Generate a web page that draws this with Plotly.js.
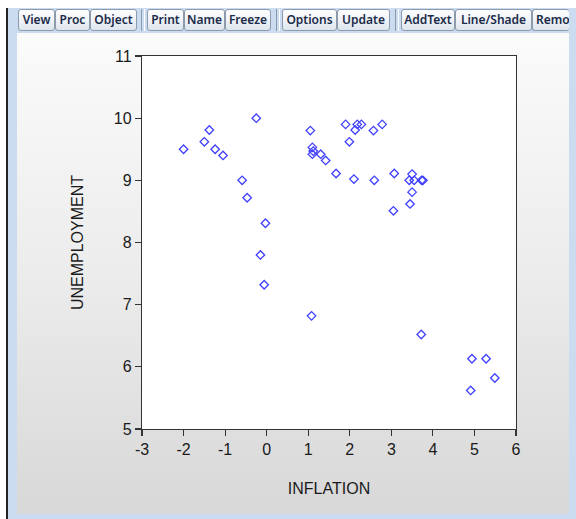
<!DOCTYPE html>
<html>
<head>
<meta charset="utf-8">
<script src="https://cdn.plot.ly/plotly-3.0.1.min.js"></script>
<style>
  html, body { margin:0; padding:0; width:576px; height:519px; overflow:hidden; background:#ffffff; }
  #frame { position:absolute; left:8px; top:8px; width:568px; height:511px; background:#cbdcf0; }
  #edge { position:absolute; left:6px; top:8px; width:2px; height:511px; background:#222; }
  #content { position:absolute; left:17px; top:33px; width:552px; height:481px;
             background:linear-gradient(to bottom, #fbfbfb 0%, #ececec 50%, #d8d8d8 100%); }
  #chart { position:absolute; left:0; top:0; width:576px; height:519px; }
  .btn { position:absolute; top:9px; height:22px; box-sizing:border-box;
         border:1px solid #8d9aab; border-radius:3px;
         background:linear-gradient(to bottom, #fdfdfe 0%, #eef2f7 55%, #dde5ee 100%);
         font-family:"Noto Sans","DejaVu Sans",sans-serif; font-size:12px; font-weight:600;
         color:#1b2b48; line-height:20px; text-align:center; overflow:hidden; white-space:nowrap; }
  .grip { position:absolute; top:9px; height:22px; width:2px; border-left:1px solid #8d9aab; border-right:1px solid #ffffff; }
</style>
</head>
<body>
<div id="frame"></div>
<div id="edge"></div>
<div id="content"></div>
<div id="chart"></div>
<div id="toolbar"></div>
<script>
// ---- data ----
const inflation = [-2.0, -1.5, -1.38, -1.24, -1.05, -0.25, -0.59, -0.47, -0.03, -0.15, -0.06, 1.08,
                   1.05, 1.1, 1.1, 1.12, 1.3, 1.42, 1.67,
                   1.9, 2.18, 2.28, 2.13, 2.57, 2.78, 1.99, 2.1, 2.59, 3.07, 3.5, 3.43, 3.55, 3.73, 3.76, 3.5, 3.45, 3.05,
                   3.72, 4.94, 5.28, 5.49, 4.91];
const unemployment = [9.5, 9.62, 9.81, 9.5, 9.4, 10.0, 9.0, 8.72, 8.31, 7.8, 7.32, 6.82,
                      9.8, 9.53, 9.42, 9.47, 9.42, 9.32, 9.11,
                      9.9, 9.9, 9.9, 9.81, 9.8, 9.9, 9.62, 9.02, 9.0, 9.11, 9.1, 9.0, 9.0, 9.0, 9.0, 8.81, 8.62, 8.51,
                      6.52, 6.13, 6.13, 5.82, 5.62];
const xTicks = [-3, -2, -1, 0, 1, 2, 3, 4, 5, 6];
const yTicks = [5, 6, 7, 8, 9, 10, 11];
const xTitle = "INFLATION";
const yTitle = "UNEMPLOYMENT";
const toolbarLabels = ["View", "Proc", "Object", "Print", "Name", "Freeze", "Options", "Update", "AddText", "Line/Shade", "Remo"];

// ---- toolbar (window chrome) ----
const btnGeom = [[18,37],[55,35],[90,47],[147,37],[184,41],[225,46],[282,55],[337,53],[401,54],[455,77],[532,44]];
const grips = [141, 276, 395];
const tb = document.getElementById('toolbar');
toolbarLabels.forEach((t, i) => {
  const d = document.createElement('div');
  d.className = 'btn';
  d.style.left = btnGeom[i][0] + 'px';
  d.style.width = btnGeom[i][1] + 'px';
  if (t === 'Remo') { d.style.textAlign = 'left'; d.style.paddingLeft = '3px'; d.style.borderRight = 'none'; d.style.width = '37px'; }
  d.textContent = t;
  tb.appendChild(d);
});
grips.forEach(x => {
  const g = document.createElement('div');
  g.className = 'grip';
  g.style.left = x + 'px';
  tb.appendChild(g);
});

// ---- chart ----
const font = {family: "Liberation Sans, Arial, sans-serif", size: 16, color: "#1a1a1a"};
const trace = {
  x: inflation, y: unemployment, type: 'scatter', mode: 'markers',
  marker: {symbol: 'diamond-open', size: 6.5, color: '#4040ff', line: {width: 1.3, color: '#4040ff'}},
  hoverinfo: 'x+y'
};
const layout = {
  width: 576, height: 519,
  margin: {l: 142, r: 60, t: 56, b: 90, pad: 0},
  paper_bgcolor: 'rgba(0,0,0,0)',
  plot_bgcolor: '#ffffff',
  showlegend: false,
  font: font,
  xaxis: {
    range: [-3, 6], tickvals: xTicks, ticktext: xTicks.map(String),
    showgrid: false, zeroline: false, showline: true, mirror: true,
    linecolor: '#333333', linewidth: 1.2, ticks: 'outside', ticklen: 6, tickcolor: '#333333', tickwidth: 1.2,
    tickfont: font, automargin: false,
    title: {text: xTitle, font: {family: font.family, size: 16, color: '#1a1a1a'}, standoff: 25}
  },
  yaxis: {
    range: [5, 11], tickvals: yTicks, ticktext: yTicks.map(String),
    showgrid: false, zeroline: false, showline: true, mirror: true,
    linecolor: '#333333', linewidth: 1.2, ticks: 'outside', ticklen: 6, tickcolor: '#333333', tickwidth: 1.2,
    tickfont: font, automargin: false,
    title: {text: yTitle, font: {family: font.family, size: 16, color: '#1a1a1a'}, standoff: 26}
  }
};
Plotly.newPlot('chart', [trace], layout, {displayModeBar: false, staticPlot: true});
</script>
</body>
</html>
